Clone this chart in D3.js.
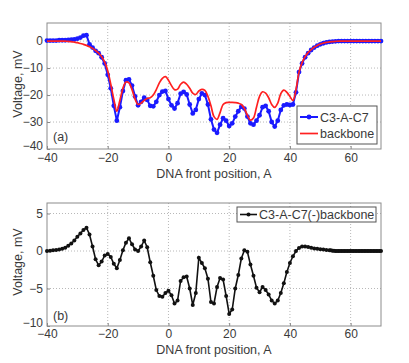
<!DOCTYPE html>
<html>
<head>
<meta charset="utf-8">
<script src="https://cdn.jsdelivr.net/npm/d3@7"></script>
<style>
body { margin: 0; background: #fff; }
text { font-family: "Liberation Sans", Arial, sans-serif; }
</style>
</head>
<body>
<div id="chart"></div>
<script>
// tick labels
var xTicks = [-40, -20, 0, 20, 40, 60];
var yTicksA = [-40, -30, -20, -10, 0];
var yTicksB = [-10, -5, 0, 5];

// panel (a): front position, A (one sample per angstrom)
var posA = d3.range(-40, 71);
var c3ac7 = [
  0.2, 0.2, 0.2, 0.2, 0.3, 0.3, 0.3, 0.4, 0.5, 0.6,
  0.9, 1.3, 2.0, 2.2, -1.2, -2.4, -3.6, -4.5, -6.0, -8.3,
  -12.5, -17.5, -24, -29.5, -24.5, -18.5, -14.5, -14.2, -16.5, -20.5,
  -23.8, -22.5, -21, -21.8, -24, -24.2, -22.5, -20, -18.7, -18.5,
  -21.5, -23.8, -25, -23, -19.5, -18.8, -19.8, -23.5, -26.8, -25.5,
  -21.5, -19.4, -20, -23.5, -29, -32.8, -34, -31, -28.6, -29.5,
  -31.5, -30.5, -28, -26, -24.3, -25, -28, -30.5, -31, -29.5,
  -27.5, -24.5, -24, -26, -30, -31.7, -29.5, -25.5, -23.8, -23.5,
  -23.7, -23.5, -19, -11.5, -8.3, -6, -4.5, -3.3, -2.4, -1.7,
  -1.2, -0.8, -0.5, -0.3, -0.2, -0.1, 0, 0, 0, 0,
  0, 0, 0, 0, 0, 0, 0, 0, 0, 0, 0
];
var backbone = [
  0, 0, 0, 0, 0, 0, -0.05, -0.1, -0.2, -0.4,
  -0.6, -0.9, -1.2, -1.6, -2.1, -2.7, -3.5, -4.5, -5.8, -7.8,
  -11, -16, -21.5, -26, -22, -17.5, -15.2, -15.5, -18, -21.5,
  -23.5, -23, -22, -21.3, -21, -20, -18, -15.5, -13.8, -13.2,
  -14.5, -16.5, -18, -17.8, -16, -15.2, -16, -17.5, -19.3, -19.8,
  -18.5, -17.9, -18.3, -20.5, -24, -28, -29, -26.5, -23.5, -22.8,
  -22.7, -22.7, -22.8, -23, -23.5, -25, -27.5, -29.3, -28.5, -24.5,
  -20.5, -18.8, -19.3, -21, -23.5, -24.6, -23, -19.5, -18.2, -19,
  -20.5, -22, -18, -11.5, -8, -5.8, -4.3, -3.2, -2.3, -1.6,
  -1.1, -0.7, -0.5, -0.3, -0.2, -0.1, 0, 0, 0, 0,
  0, 0, 0, 0, 0, 0, 0, 0, 0, 0, 0
];

// panel (b): difference, denser sampling past 53 A
var posB = d3.range(-40, 53).concat(d3.range(53, 70.5, 0.5));
var diffB = [
  0, 0.05, 0.1, 0.15, 0.2, 0.3, 0.45, 0.7, 1.0, 1.4,
  1.9, 2.35, 2.8, 3.1, 2.2, 0.6, -1.1, -1.9, -1.4, -0.6,
  -0.4, -0.8, -1.7, -2.3, -1.2, 0.1, 1.1, 1.7, 0.9, 0.2,
  0, 0.6, 1.4, 0.5, -1.5, -3.3, -5.2, -6, -6.1, -5.6,
  -5.3, -5.9, -7, -6.6, -4, -3.5, -3.4, -5, -7.2, -5.6,
  -0.9, -1.6, -2.3, -3.7, -6.8, -7, -4.8, -3.6, -3.8, -6,
  -8.4, -7.8, -5, -3.2, -1, 0.1, -0.1, -1.8, -3.3, -4.9,
  -5.5, -4.8, -5.2, -5.8, -6.6, -7, -6.6, -5.6, -4.3, -2.8,
  -1.6, -0.7, 0, 0.4, 0.6, 0.6, 0.55, 0.45, 0.35, 0.3,
  0.25, 0.2, 0.15,
  0.1, 0.1, 0.05, 0.05, 0, 0, 0, 0, 0, 0,
  0, 0, 0, 0, 0, 0, 0, 0, 0, 0,
  0, 0, 0, 0, 0, 0, 0, 0, 0, 0,
  0, 0, 0, 0, 0
];

var svg = d3.select("#chart")
  .append("svg")
    .attr("width", 409)
    .attr("height", 363);

var textColor = "#3a3a3a";
var fontSize = "12.5px";
var tickSize = "12px";

function panel(o) {
  var x = d3.scaleLinear().domain([-40, 70]).range([47, 381]);
  var y = d3.scaleLinear().domain(o.yDomain).range([o.bottom, o.top]);
  var g = svg.append("g");

  // dotted grid
  g.selectAll(".vg").data(xTicks.filter(function(d){ return d > -40; }))
    .enter().append("line")
    .attr("x1", function(d){ return x(d); }).attr("x2", function(d){ return x(d); })
    .attr("y1", o.top).attr("y2", o.bottom)
    .attr("stroke", "#b8b8b8").attr("stroke-dasharray", "1,2");
  g.selectAll(".hg").data(o.yTicks.filter(function(d){ return d > o.yDomain[0]; }))
    .enter().append("line")
    .attr("x1", 47).attr("x2", 381)
    .attr("y1", function(d){ return y(d); }).attr("y2", function(d){ return y(d); })
    .attr("stroke", "#b8b8b8").attr("stroke-dasharray", "1,2");

  // axes
  var ax = g.append("g")
    .attr("transform", "translate(0," + o.bottom + ")")
    .call(d3.axisBottom(x).tickValues(xTicks).tickSizeInner(-3).tickSizeOuter(0).tickPadding(o.xPad));
  var ay = g.append("g")
    .attr("transform", "translate(47,0)")
    .call(d3.axisLeft(y).tickValues(o.yTicks).tickSizeInner(-3).tickSizeOuter(0).tickPadding(4));
  [ax, ay].forEach(function(a){
    a.select(".domain").remove();
    a.selectAll("line").attr("stroke", "#888");
    a.selectAll("text").attr("fill", textColor).style("font-size", tickSize).attr("font-family", null);
  });
  // lowest y label sits a touch higher so it clears the x labels
  ay.selectAll("text").filter(function(d){ return d === o.yDomain[0]; })
    .attr("dy", "0.05em");

  // box
  g.append("rect")
    .attr("x", 47).attr("y", o.top)
    .attr("width", 334).attr("height", o.bottom - o.top)
    .attr("fill", "none").attr("stroke", "#8c8c8c");

  // axis titles
  g.append("text")
    .attr("x", 214).attr("y", o.xLabelY)
    .attr("text-anchor", "middle")
    .attr("fill", textColor).style("font-size", fontSize)
    .text("DNA front position, A");
  g.append("text")
    .attr("transform", "translate(22," + o.yLabelMid + ") rotate(-90)")
    .attr("text-anchor", "middle")
    .attr("fill", textColor).style("font-size", fontSize)
    .text("Voltage, mV");
  g.append("text")
    .attr("x", 53).attr("y", o.tagY)
    .attr("fill", textColor).style("font-size", fontSize)
    .text(o.tag);

  o.series.forEach(function(s){
    var pts = s.xs.map(function(d, i){ return [d, s.ys[i]]; });
    var line = d3.line()
      .x(function(d){ return x(d[0]); })
      .y(function(d){ return y(d[1]); });
    if (s.smooth) line.curve(d3.curveCatmullRom);
    g.append("path")
      .datum(pts)
      .attr("fill", "none")
      .attr("stroke", s.color)
      .attr("stroke-width", s.width)
      .attr("d", line);
    if (s.marker) {
      g.selectAll(null).data(pts).enter().append("circle")
        .attr("cx", function(d){ return x(d[0]); })
        .attr("cy", function(d){ return y(d[1]); })
        .attr("r", s.marker)
        .attr("fill", s.color);
    }
  });
  return g;
}

// panel (a)
var ga = panel({
  top: 23, bottom: 149, yDomain: [-40, 6.7], yTicks: yTicksA,
  xPad: 4, xLabelY: 178, yLabelMid: 84, tag: "(a)", tagY: 141,
  series: [
    {xs: posA, ys: c3ac7, color: "#1a1aff", width: 2, marker: 2.4},
    {xs: posA, ys: backbone, color: "#ff2020", width: 1.7, smooth: true}
  ]
});

// legend (a)
ga.append("rect").attr("x", 297).attr("y", 106).attr("width", 80).attr("height", 38)
  .attr("fill", "#fff").attr("stroke", "#555");
ga.append("line").attr("x1", 300).attr("x2", 318).attr("y1", 117).attr("y2", 117)
  .attr("stroke", "#1a1aff").attr("stroke-width", 2);
ga.append("circle").attr("cx", 309).attr("cy", 117).attr("r", 2.4).attr("fill", "#1a1aff");
ga.append("text").attr("x", 320).attr("y", 121.5).attr("fill", textColor)
  .style("font-size", fontSize).text("C3-A-C7");
ga.append("line").attr("x1", 300).attr("x2", 318).attr("y1", 133.5).attr("y2", 133.5)
  .attr("stroke", "#ff2020").attr("stroke-width", 1.7);
ga.append("text").attr("x", 320).attr("y", 138).attr("fill", textColor)
  .style("font-size", fontSize).text("backbone");

// panel (b)
var gb = panel({
  top: 203, bottom: 326, yDomain: [-10, 6.4], yTicks: yTicksB,
  xPad: 3, xLabelY: 354, yLabelMid: 262, tag: "(b)", tagY: 320,
  series: [
    {xs: posB, ys: diffB, color: "#111", width: 1.6, marker: 2}
  ]
});

// legend (b)
gb.append("rect").attr("x", 237).attr("y", 207).attr("width", 139).attr("height", 15)
  .attr("fill", "#fff").attr("stroke", "#555");
gb.append("line").attr("x1", 240).attr("x2", 257).attr("y1", 214.5).attr("y2", 214.5)
  .attr("stroke", "#111").attr("stroke-width", 1.6);
gb.append("circle").attr("cx", 248.5).attr("cy", 214.5).attr("r", 2).attr("fill", "#111");
gb.append("text").attr("x", 259).attr("y", 219).attr("fill", textColor)
  .style("font-size", fontSize).text("C3-A-C7(-)backbone");
</script>
</body>
</html>
